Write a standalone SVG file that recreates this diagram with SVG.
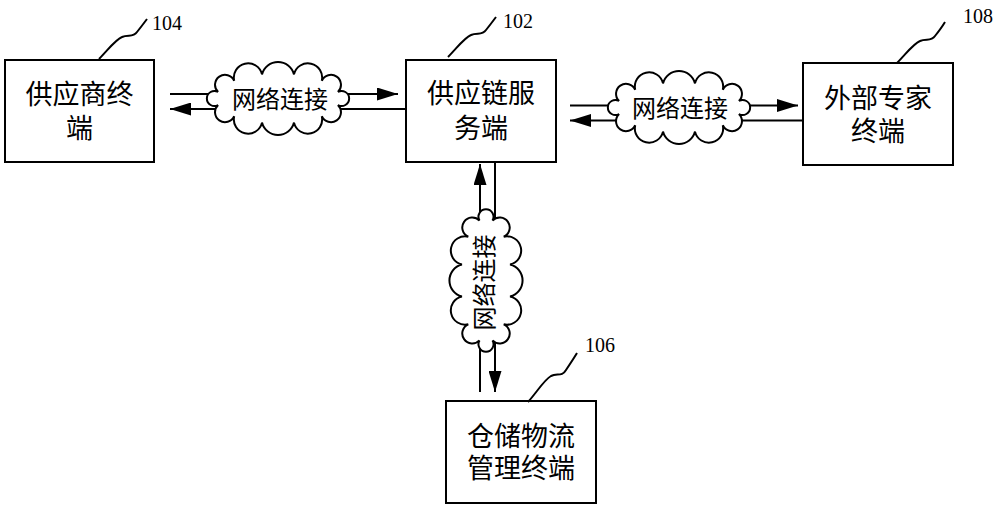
<svg xmlns="http://www.w3.org/2000/svg" width="1000" height="509" viewBox="0 0 1000 509">
<style>
.box{fill:#fff;stroke:#000;stroke-width:2}
.lbl{font-family:"Liberation Sans","Noto Sans CJK SC",sans-serif;font-size:27px;fill:#000;text-anchor:middle}
.cl{font-family:"Liberation Sans","Noto Sans CJK SC",sans-serif;font-size:24px;fill:#000;text-anchor:middle}
.num{font-family:"Liberation Serif",serif;font-size:20px;fill:#000}
.lead{fill:none;stroke:#000;stroke-width:2}
.ln{stroke:#000;stroke-width:2;fill:none}
.cloud{fill:#fff;stroke:#000;stroke-width:2}
</style>
<defs>
<marker id="ah" markerUnits="userSpaceOnUse" markerWidth="21" markerHeight="13" refX="21" refY="6.5" orient="auto">
<path d="M0,0 L21,6.5 L0,13 Z" fill="#000"/>
</marker>
<path id="cloudShape" d="M-59.9,-6.5 A10,10 0 1 1 -43.8,-17.7 A14,14 0 0 1 -16,-24.1 A16.5,16.5 0 0 1 16,-24.1 A14,14 0 0 1 43.8,-17.7 A10,10 0 1 1 59.9,-6.5 A7.5,7.5 0 1 1 59.9,6.5 A10,10 0 1 1 43.8,17.7 A14,14 0 0 1 16,24.1 A16.5,16.5 0 0 1 -16,24.1 A14,14 0 0 1 -43.8,17.7 A10,10 0 1 1 -59.9,6.5 A7.5,7.5 0 1 1 -59.9,-6.5 Z"/>
</defs>
<rect width="1000" height="509" fill="#fff"/>

<g id="connectors">
<line class="ln" x1="170" y1="94" x2="398" y2="94" marker-end="url(#ah)"/>
<line class="ln" x1="405" y1="109" x2="170" y2="109" marker-end="url(#ah)"/>
<line class="ln" x1="570" y1="105.5" x2="798" y2="105.5" marker-end="url(#ah)"/>
<line class="ln" x1="803" y1="120.5" x2="570" y2="120.5" marker-end="url(#ah)"/>
<line class="ln" x1="480" y1="392" x2="480" y2="164" marker-end="url(#ah)"/>
<line class="ln" x1="495" y1="162" x2="495" y2="392" marker-end="url(#ah)"/>
<g id="cloud-left">
<use href="#cloudShape" class="cloud" transform="translate(278,98.5)"/>
<text class="cl" x="280" y="108">网络连接</text>
</g>
<g id="cloud-right">
<use href="#cloudShape" class="cloud" transform="translate(679,107.5)"/>
<text class="cl" x="680" y="117">网络连接</text>
</g>
<g id="cloud-bottom">
<use href="#cloudShape" class="cloud" transform="translate(486,280.5) rotate(90)"/>
<text class="cl" transform="translate(493,282.5) rotate(-90)" x="0" y="0">网络连接</text>
</g>
</g>

<g id="node-104">
<rect class="box" x="5" y="60" width="149" height="102"/>
<text class="lbl" x="79.5" y="104">供应商终</text>
<text class="lbl" x="79.5" y="138">端</text>
<path class="lead" d="M99,59 c9,-9 16,-19 23,-22 c6,-3 11,1 15,-5 c4,-5 7,-9 10,-13"/>
<text class="num" x="152" y="30">104</text>
</g>

<g id="node-102">
<rect class="box" x="406" y="60" width="150" height="102"/>
<text class="lbl" x="481" y="103">供应链服</text>
<text class="lbl" x="481" y="138">务端</text>
<path class="lead" d="M448,57 c9,-9 16,-19 23,-22 c6,-3 11,1 15,-5 c4,-5 7,-9 10,-13"/>
<text class="num" x="503" y="28">102</text>
</g>

<g id="node-108">
<rect class="box" x="803" y="63" width="150" height="102"/>
<text class="lbl" x="878" y="108">外部专家</text>
<text class="lbl" x="878" y="141">终端</text>
<path class="lead" d="M897,63 c9,-9 16,-19 23,-22 c6,-3 11,1 15,-5 c4,-5 7,-9 10,-14"/>
<text class="num" x="963" y="23">108</text>
</g>

<g id="node-106">
<rect class="box" x="446" y="401" width="150" height="102"/>
<text class="lbl" x="521" y="446">仓储物流</text>
<text class="lbl" x="521" y="478">管理终端</text>
<path class="lead" d="M528,402 c9,-10 16,-22 23,-26 c6,-3 11,1 15,-6 c4,-6 8,-12 11,-17"/>
<text class="num" x="585" y="352">106</text>
</g>
</svg>
